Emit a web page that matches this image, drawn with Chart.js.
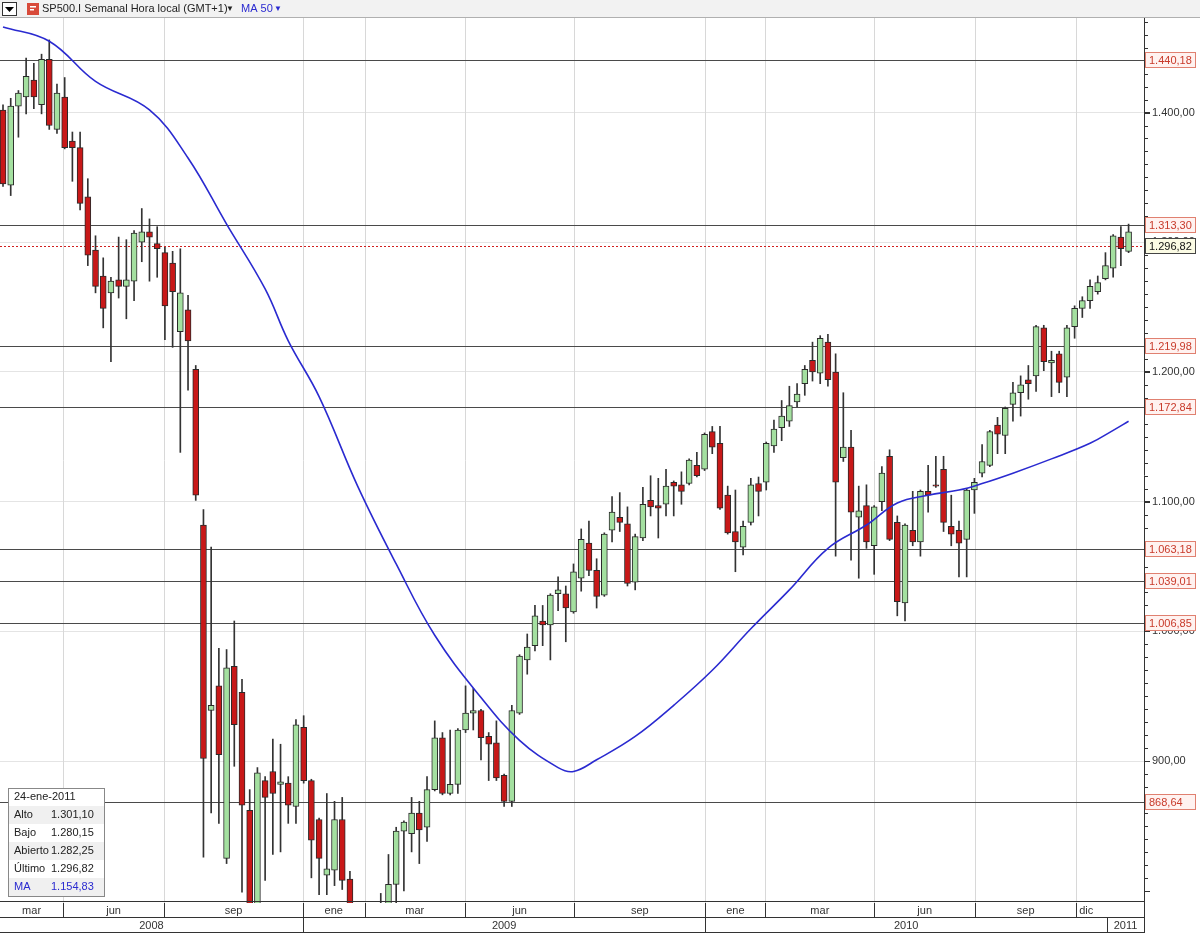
<!DOCTYPE html>
<html><head><meta charset="utf-8">
<script src="https://cdn.jsdelivr.net/npm/chart.js@4.4.1/dist/chart.umd.min.js"></script>
<style>html,body{margin:0;padding:0;background:#fff}#w{width:1200px;height:933px;position:relative}</style>
</head><body><div id="w"><canvas id="c" width="1200" height="933"></canvas></div>
<script>
const O=[1402,1344,1405,1412,1425,1406,1441,1387,1412,1378,1373,1335,1294,1274,1261,1271,1266,1270,1300,1308,1299,1292,1284,1231,1248,1202,1082,939,958,825,973,953,862,770,885,892,882,883,865,926,885,855,812,816,855,809,770,760,765,775,780,805,846,844,860,849,878,918,875,882,924,937,939,919,914,889,869,937,978,989,1008,1005,1029,1029,1015,1041,1068,1047,1028,1078,1088,1083,1038,1072,1101,1097,1098,1115,1113,1114,1128,1125,1154,1145,1105,1077,1065,1084,1114,1115,1143,1157,1162,1177,1191,1209,1199,1223,1200,1134,1142,1088,1097,1066,1100,1135,1084,1022,1078,1069,1108,1113,1125,1081,1078,1071,1109,1122,1128,1159,1151,1175,1184,1194,1197,1234,1207,1214,1196,1235,1249,1255,1262,1272,1280,1304,1293];
const H=[1406,1411,1417,1442,1438,1445,1456,1422,1427,1385,1385,1349,1305,1288,1273,1304,1302,1309,1326,1318,1312,1296,1293,1295,1259,1205,1094,1065,987,986,1008,963,878,895,888,917,913,888,932,935,886,856,875,869,872,815,785,780,788,798,828,849,854,872,869,888,931,922,924,925,958,956,940,922,931,890,943,982,998,1020,1020,1029,1042,1035,1052,1079,1085,1056,1076,1104,1107,1096,1075,1111,1120,1118,1125,1116,1123,1133,1138,1153,1158,1158,1112,1109,1085,1118,1119,1146,1163,1178,1189,1191,1205,1223,1228,1229,1214,1184,1155,1112,1113,1097,1127,1140,1089,1083,1108,1109,1128,1135,1135,1105,1085,1110,1118,1144,1155,1165,1173,1192,1197,1205,1236,1236,1216,1216,1236,1251,1258,1271,1274,1292,1306,1312,1314];
const L=[1343,1336,1381,1399,1403,1399,1387,1384,1372,1347,1325,1282,1261,1234,1208,1257,1241,1255,1285,1270,1273,1225,1219,1138,1186,1101,826,860,852,821,896,799,750,755,808,828,830,852,852,883,810,797,797,804,801,750,740,735,740,760,770,790,800,830,821,838,877,874,874,875,922,924,901,885,885,865,865,936,967,985,989,978,1016,992,1014,1031,1043,1018,1027,1069,1077,1035,1032,1070,1089,1072,1089,1089,1098,1113,1119,1124,1137,1094,1075,1046,1059,1082,1089,1109,1138,1147,1158,1173,1182,1193,1191,1189,1058,1131,1055,1041,1064,1044,1093,1070,1012,1008,1066,1058,1092,1111,1077,1066,1042,1042,1091,1119,1127,1137,1137,1162,1166,1179,1185,1201,1181,1184,1181,1226,1242,1249,1260,1271,1273,1282,1292];
const C=[1345,1405,1415,1428,1412,1441,1390,1415,1373,1373,1330,1290,1266,1249,1270,1266,1271,1307,1308,1304,1295,1251,1262,1261,1224,1105,902,943,905,972,928,866,770,891,872,875,884,866,928,885,839,825,817,855,808,770,760,765,775,785,805,846,853,860,847,878,918,875,882,924,937,939,918,913,887,869,939,981,988,1012,1005,1028,1032,1018,1046,1071,1047,1027,1075,1092,1084,1037,1073,1098,1096,1095,1112,1112,1108,1132,1120,1152,1142,1095,1076,1069,1081,1113,1108,1145,1156,1166,1174,1183,1202,1200,1226,1194,1115,1142,1092,1093,1069,1096,1122,1071,1023,1082,1069,1108,1105,1112,1084,1075,1068,1109,1115,1131,1154,1152,1172,1184,1190,1191,1235,1208,1209,1192,1234,1249,1255,1266,1269,1282,1305,1295,1308];
const maIdx=[0,6,12,19,24,29,34,37,41,46,51,56,62,67,72,74,77,82,87,92,97,102,107,112,116,120,124,127,131,136,141,144,146];
const maVal=[1466,1455,1424,1402,1365,1314,1264,1224,1181,1112,1052,997,949,916,895,892,901,919,943,970,1002,1032,1064,1082,1099,1105,1109,1114,1122,1133,1145,1155,1162];
const levels=[1440.18,1313.30,1219.98,1172.84,1063.18,1039.01,1006.85,868.64];
const lastPrice=1296.82;
const yTicks=[900,1000,1100,1200,1300,1400];
const monthNames=['mar','jun','sep','ene','mar','jun','sep','ene','mar','jun','sep','dic'];
const monthEdges=[-0.39,7.8,20.9,38.9,46.9,59.9,74.1,91.1,98.9,113.0,126.1,139.2,148];
const yearNames=['2008','2009','2010','2011'];
const yearEdges=[-0.39,38.9,91.1,143.2,148];
const infoTitle='24-ene-2011';
const infoLabels=['Alto','Bajo','Abierto','Último','MA'];
const infoValues=['1.301,10','1.280,15','1.282,25','1.296,82','1.154,83'];

const FONT='"Liberation Sans", Arial, sans-serif';
function fmt(v){let [i,d]=v.toFixed(2).split('.');i=i.replace(/\B(?=(\d{3})+$)/g,'.');return i+','+d;}
const up=i=>C[i]>=O[i];
const wicks=H.map((h,i)=>({x:i,y:[L[i],h]}));
const bodies=O.map((o,i)=>({x:i,y:[Math.min(o,C[i]),Math.max(o,C[i])]}));
const GREEN='#a4e0a0',RED='#c81818';

const deco={id:'deco',
beforeDraw(ch){const c=ch.ctx;c.save();c.fillStyle='#fff';c.fillRect(0,0,1200,933);c.restore();},
beforeDatasetsDraw(ch){const c=ch.ctx,a=ch.chartArea,x=ch.scales.x,y=ch.scales.y;c.save();
 c.beginPath();c.rect(a.left,a.top,a.right-a.left,a.bottom-a.top);c.clip();
 c.strokeStyle='#d8d8d8';c.lineWidth=1;
 for(let k=1;k<monthEdges.length-1;k++){const px=Math.round(x.getPixelForValue(monthEdges[k]))+0.5;c.beginPath();c.moveTo(px,a.top);c.lineTo(px,a.bottom);c.stroke();}
 c.strokeStyle='#4a4a4a';
 levels.forEach(v=>{const py=Math.round(y.getPixelForValue(v))+0.5;c.beginPath();c.moveTo(a.left,py);c.lineTo(a.right,py);c.stroke();});
 c.strokeStyle='#d02020';c.setLineDash([2,2]);const py=Math.round(y.getPixelForValue(lastPrice))+0.5;c.beginPath();c.moveTo(a.left,py);c.lineTo(a.right,py);c.stroke();
 c.restore();},
afterDraw(ch){const c=ch.ctx,a=ch.chartArea,x=ch.scales.x,y=ch.scales.y;c.save();
 c.strokeStyle='#333';c.lineWidth=1;
 for(let v=800;v<=1470;v+=10){const py=Math.round(y.getPixelForValue(v))+0.5;c.beginPath();c.moveTo(a.right,py);c.lineTo(a.right+(v%100===0?6:4),py);c.stroke();}
 c.beginPath();c.moveTo(a.right+0.5,a.top);c.lineTo(a.right+0.5,933);c.stroke();
 c.font='11px '+FONT;c.textBaseline='middle';
 levels.forEach(v=>{const py=Math.round(y.getPixelForValue(v));c.fillStyle='#fff2f0';c.fillRect(a.right+1,py-8,50,16);c.strokeStyle='#e08070';c.strokeRect(a.right+1.5,py-7.5,50,15);c.fillStyle='#c83a2a';c.textAlign='left';c.fillText(fmt(v),a.right+5,py+1);});
 {const py=Math.round(y.getPixelForValue(lastPrice));c.fillStyle='#fbfbe4';c.fillRect(a.right+1,py-8,50,16);c.strokeStyle='#444';c.strokeRect(a.right+1.5,py-7.5,50,15);c.fillStyle='#111';c.textAlign='left';c.fillText(fmt(lastPrice),a.right+5,py+1);}
 c.fillStyle='#fff';c.fillRect(0,a.bottom,a.right,933-a.bottom);
 c.strokeStyle='#333';
 [a.bottom-1.5,917.5,932.5].forEach(yy=>{c.beginPath();c.moveTo(0,yy);c.lineTo(a.right,yy);c.stroke();});
 c.font='11px '+FONT;c.fillStyle='#333';c.textAlign='center';
 for(let k=0;k<monthNames.length;k++){const x0=Math.max(a.left,x.getPixelForValue(monthEdges[k])),x1=Math.min(a.right,x.getPixelForValue(monthEdges[k+1]));
  if(k>0){c.beginPath();c.moveTo(Math.round(x0)+0.5,903);c.lineTo(Math.round(x0)+0.5,917);c.stroke();}
  if(monthNames[k]==='dic'){c.textAlign='left';c.fillText(monthNames[k],x0+3,911);c.textAlign='center';}else c.fillText(monthNames[k],(x0+x1)/2,911);}
 for(let k=0;k<yearNames.length;k++){const x0=Math.max(a.left,x.getPixelForValue(yearEdges[k])),x1=Math.min(a.right,x.getPixelForValue(yearEdges[k+1]));
  if(k>0){c.beginPath();c.moveTo(Math.round(x0)+0.5,917);c.lineTo(Math.round(x0)+0.5,933);c.stroke();}
  c.fillText(yearNames[k],(x0+x1)/2,926);}
 const bx=8,by=788,bw=96,rh=18;
 c.fillStyle='#fff';c.fillRect(bx,by,bw,rh*6);
 for(let r=0;r<6;r++){c.fillStyle=r%2?'#f0f0f0':'#ffffff';c.fillRect(bx,by+r*rh,bw,rh);}
 c.strokeStyle='#888';c.strokeRect(bx+0.5,by+0.5,bw,rh*6);
 c.textAlign='left';c.fillStyle='#222';c.fillText(infoTitle,bx+6,by+9);
 infoLabels.forEach((l,i)=>{c.fillStyle=i===4?'#2a2ad0':'#222';c.fillText(l,bx+6,by+rh*(i+1)+9);c.fillText(infoValues[i],bx+43,by+rh*(i+1)+9);});
 c.fillStyle='#f2f2f2';c.fillRect(0,0,1200,18);c.strokeStyle='#b0b0b0';c.beginPath();c.moveTo(0,17.5);c.lineTo(1200,17.5);c.stroke();
 c.fillStyle='#fff';c.fillRect(2,2,15,14);c.strokeStyle='#333';c.strokeRect(2.5,2.5,14,13);
 c.fillStyle='#000';c.beginPath();c.moveTo(5,7);c.lineTo(14,7);c.lineTo(9.5,12);c.fill();
 c.fillStyle='#d84a3a';c.fillRect(27,3,12,12);c.fillStyle='#fff';c.fillRect(30,6,6,1.5);c.fillRect(30,9,4,1.5);
 c.font='11px '+FONT;c.fillStyle='#222';c.fillText('SP500.I Semanal Hora local (GMT+1)',42,9);
 c.font='8px '+FONT;c.fillText('▼',226,9);
 c.font='11px '+FONT;c.fillStyle='#2a2ad0';c.fillText('MA 50',241,9);c.font='8px '+FONT;c.fillText('▼',274,9);
 c.restore();}
};

new Chart(document.getElementById('c'),{
 data:{datasets:[
  {type:'line',data:maIdx.map((v,i)=>({x:v,y:maVal[i]})),borderColor:'#2a2ad0',borderWidth:1.6,pointRadius:0,tension:0.4,order:0},
  {type:'bar',data:bodies,backgroundColor:O.map((o,i)=>up(i)?GREEN:RED),borderColor:'#2a2a2a',borderWidth:1,borderSkipped:false,barThickness:6,grouped:false,order:1},
  {type:'bar',data:wicks,backgroundColor:'#333',borderWidth:0,barThickness:1,grouped:false,order:2}
 ]},
 options:{responsive:false,animation:false,events:[],
  layout:{padding:{top:18,bottom:30,left:0,right:0}},
  plugins:{legend:{display:false},tooltip:{enabled:false}},
  scales:{
   x:{type:'linear',min:-0.39,max:148,display:false,offset:false},
   y:{position:'right',min:790.6,max:1472.9,
      afterFit(s){s.width=56;},
      afterBuildTicks(s){s.ticks=yTicks.map(v=>({value:v}));},
      grid:{color:'#e4e4e4',tickLength:6,tickColor:'#333'},border:{display:false},
      ticks:{padding:2,color:'#333',font:{family:FONT,size:11},callback:v=>fmt(v)}}
  }},
 plugins:[deco]
});
</script></body></html>
